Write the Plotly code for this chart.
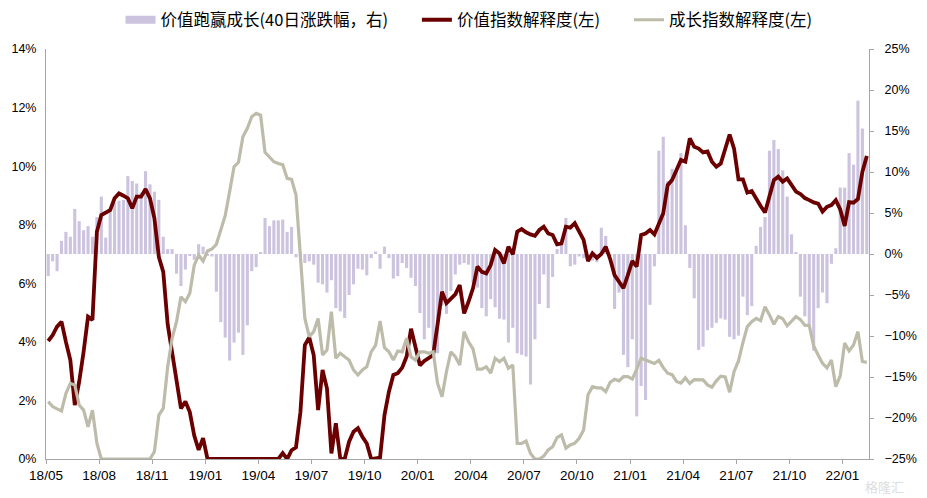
import plotly.graph_objects as go

# ---- data (weekly observations, 186 weeks from 2018/05) ----
tick_labels = ["18/05", "18/08", "18/11", "19/01", "19/04", "19/07", "19/10", "20/01",
               "20/04", "20/07", "20/10", "21/01", "21/04", "21/07", "21/10", "22/01"]

value_beat_growth = [  # right axis, %
    -2.7, -0.9, -2.1, 1.6, 2.7, 2.1, 5.5, 4.0, 2.9, 3.4, 2.1, 4.5, 7.0, 2.0, 5.1,
    6.3, 6.5, 6.6, 9.5, 8.9, 8.6, 7.5, 10.1, 8.5, 7.6, 6.6, 2.1, 0.6, 0.6, -2.4,
    -3.9, -1.9, -0.2, -0.7, 1.2, 0.9,
    -0.2, -0.3, -4.6, -8.3, -10.2, -13.0, -10.8, -9.6, -12.3, -8.7, -2.1, -1.6, 0.2,
    4.4, 3.4, 4.1, 4.1, 4.2, 2.7, 3.3, -0.4, -0.3, -1.1, -0.9, -1.3, -3.5, -3.7, -4.7,
    -3.2, -6.6, -7.0, -7.8, -5.0, -3.7, -1.8, -1.9, -2.6, -0.5,
    0.3, -1.8, 0.9, -0.5, -3.0, -2.7, -1.1, -1.7, -2.9, -3.9, -7.2, -10.4, -9.0, -11.5,
    -12.1, -6.3, -7.3, -4.5, -2.5, -1.3, -1.1, -1.3, -3.5, -4.1, -6.6, -7.6, -5.5, -6.5,
    -7.9, -8.0, -10.8, -9.0, -12.1, -12.3, -12.5, -15.9, -10.4, -6.1,
    -2.5, -6.6, -2.8, 0.6, 1.8, 4.4, -1.5, -1.3, -0.3, -0.5, -0.6, -0.8, -1.0, 3.2, 2.2,
    -0.2, -6.7, -4.7, -12.3, -13.8, -10.4, -19.8, -16.1, -17.8, -6.2, -1.5, 12.6, 14.3,
    8.9, 10.4, 10.4, 12.3, 3.5, -1.7, -5.4, -11.7, -11.3,
    -9.3, -9.0, -8.4, -7.85, -8.0, -10.1, -10.4, -9.95, -5.2, -7.45, -6.35,
    1.0, 3.3, 4.5, 12.6, 13.9, 12.8, 10.2, 7.0, 2.4, 0.2, -5.2, -7.6, -8.7, -11.8, -6.6,
    -4.7, -6.0, -1.2, 0.7, 8.1, 8.1, 12.3, 10.9, 18.7, 15.3, 12.0,
]

value_explain = [  # left axis, %
    4.03, 4.23, 4.52, 4.69, 4.0, 3.38, 1.84, 2.64, 3.66, 4.86, 4.75, 7.76, 8.33, 8.42,
    8.5, 8.9, 9.07, 8.99, 8.9, 8.56, 8.96, 8.96, 9.22, 8.9, 8.22, 6.9, 6.39, 4.6, 3.7,
    2.7, 1.73, 1.96, 1.6, 0.8, 0.31, 0.71,
    0, 0, 0, 0, 0, 0, 0, 0, 0, 0, 0, 0, 0, 0, 0, 0, 0,
    0.2, 0.0, 0.3, 0.4, 1.6, 3.89, 4.15, 3.55, 1.67, 3.04, 2.41, 0.19, 1.22, 0.03, 0.0,
    0.59, 0.93, 1.05, 0.76, 0.53, 0.0,
    0.03, 0.05, 1.5, 2.3, 2.87, 2.93, 3.12, 3.5, 4.45, 3.8, 3.2, 3.35, 3.45, 3.55, 4.6,
    5.71, 5.32, 5.49, 5.62, 5.94, 4.97, 5.37, 5.83, 6.57, 6.39, 6.34, 6.62, 7.14, 7.02,
    6.68, 7.25, 6.99, 7.76, 7.85, 7.74, 7.67, 7.62, 7.82,
    7.93, 7.7, 7.65, 7.33, 7.36, 7.93, 7.9, 8.05, 7.78, 7.48, 6.76, 7.02, 6.87, 7.0, 7.25,
    6.83, 6.28, 6.05, 5.83, 6.28, 6.76, 6.57, 7.65, 7.7, 7.82, 7.67, 8.05, 8.39, 9.35,
    9.53, 9.87, 10.21, 10.15, 10.95, 10.66, 10.6, 10.47,
    10.5, 10.15, 9.98, 10.09, 10.6, 11.08, 10.6, 9.55, 9.55, 9.1, 9.15, 8.87, 8.64, 8.42,
    8.98, 9.52, 9.64, 9.47, 9.58, 9.35, 9.13, 9.05, 8.91, 8.84, 8.76, 8.72, 8.45, 8.61,
    8.67, 8.84, 8.52, 7.96, 8.77, 8.75, 8.88, 9.8, 10.35,
]

growth_explain = [  # left axis, %
    1.96, 1.79, 1.71, 1.64, 2.24, 2.58, 2.53, 1.84, 1.67, 1.1, 1.67, 0.54,
    0, 0, 0, 0, 0, 0, 0, 0, 0, 0, 0, 0,
    0.25, 1.5, 1.73, 3.15, 4.12, 4.69, 5.54, 5.37, 5.66, 6.62, 6.96, 6.76,
    7.1, 7.17, 7.33, 7.82, 8.31, 9.13, 9.98, 10.13, 11.0, 11.29, 11.69, 11.8, 11.74,
    10.47, 10.29, 10.15, 10.09, 10.05, 9.58, 9.55, 9.01,
    7.08, 4.8, 4.18, 4.35, 4.8, 3.55, 3.72, 5.03, 3.44, 3.61, 3.49, 3.38, 3.04, 2.87,
    3.04, 3.15, 3.66,
    3.89, 4.71, 3.8, 3.66, 3.38, 3.69, 3.66, 4.12, 3.49, 3.38, 3.66, 3.66, 3.61, 3.66,
    2.58, 2.13, 2.98, 3.66, 3.49, 3.21, 4.35, 4.0, 3.76, 3.07, 3.07, 3.15, 2.93, 3.44,
    3.32, 3.44, 3.1, 3.21, 0.53, 0.53, 0.61, 0.19, 0, 0,
    0.1, 0.31, 0.42, 0.73, 0.82, 0.37, 0.48, 0.54, 0.71, 0.99, 2.19, 2.47, 2.43, 2.43,
    2.3, 2.62, 2.72, 2.67, 2.81, 2.81, 2.73, 3.07, 3.44, 3.38, 3.32, 3.26, 3.37, 3.12,
    2.93, 2.88, 2.65, 2.59, 2.77, 2.58, 2.71, 2.7, 2.7,
    2.53, 2.45, 2.67, 2.83, 2.8, 2.28, 2.98, 3.35, 3.97, 4.52, 4.69, 4.8, 4.72, 5.2,
    4.92, 4.6, 4.86, 4.79, 4.55, 4.72, 4.86, 4.76, 4.57, 4.55, 3.86, 3.55, 3.27, 3.11,
    3.38, 2.47, 2.84, 3.96, 3.69, 3.89, 4.35, 3.33, 3.3,
]

series_names = ["价值跑赢成长(40日涨跌幅，右)", "价值指数解释度(左)", "成长指数解释度(左)"]

weeks = list(range(len(value_explain)))
weeks_per_tick = 12
tick_pos = [k * weeks_per_tick - 0.5 for k in range(len(tick_labels))]

FONT = "Liberation Sans, Arial, sans-serif"
CJK = "Noto Sans CJK SC, sans-serif"
AXIS_COLOR = "#A6A6A6"
BAR_COLOR = "#CCC3DE"
RED = "#6B0000"
GREY = "#BDBCAB"
PAD = "\u3000\u00a0\u00a0"   # extra spacing between legend entries

# page body has an 8px margin, so the figure is 8px smaller than the window
FIG_W, FIG_H = 919, 490
PLOT_H = 410

fig = go.Figure()
fig.add_trace(go.Bar(
    x=weeks, y=value_beat_growth, name=series_names[0], showlegend=False,
    legendgroup="bar", marker=dict(color=BAR_COLOR, line=dict(width=0)), yaxis="y",
))
# legend-only entry so the bar key is drawn as a flat wide swatch like the original
fig.add_trace(go.Scatter(
    x=[None], y=[None], name=series_names[0] + PAD, mode="lines", legendgroup="bar",
    line=dict(color=BAR_COLOR, width=8), yaxis="y2", hoverinfo="skip",
))
fig.add_trace(go.Scatter(
    x=weeks, y=value_explain, name=series_names[1] + PAD, mode="lines",
    line=dict(color=RED, width=3.8), yaxis="y2",
))
fig.add_trace(go.Scatter(
    x=weeks, y=growth_explain, name=series_names[2], mode="lines",
    line=dict(color=GREY, width=3.2), yaxis="y2",
))

fig.update_layout(
    width=FIG_W, height=FIG_H,
    margin=dict(l=38, r=58, t=41, b=39, autoexpand=False),
    paper_bgcolor="white", plot_bgcolor="white",
    bargap=0.3,
    showlegend=True,
    legend=dict(orientation="h", x=0.514, xanchor="center", xref="paper",
                y=1 - 12 / FIG_H, yanchor="middle", yref="container",
                font=dict(family=CJK, size=16.5, color="#000"), itemwidth=30,
                traceorder="normal"),
    font=dict(family=FONT, size=12, color="#000"),
    xaxis=dict(range=[-0.5, len(weeks) - 0.5], tickmode="array", tickvals=tick_pos,
               ticktext=tick_labels, showgrid=False, zeroline=False,
               showline=True, linecolor=AXIS_COLOR, linewidth=1,
               ticks="outside", ticklen=4, tickcolor=AXIS_COLOR,
               tickfont=dict(family=FONT, size=13.5, color="#000")),
    yaxis=dict(side="right", range=[-25, 25], dtick=5, ticksuffix="%",
               showgrid=False, zeroline=False, showline=True, linecolor=AXIS_COLOR,
               linewidth=1, ticks="outside", ticklen=4, tickcolor=AXIS_COLOR,
               ticklabelstandoff=8,
               tickfont=dict(family=FONT, size=12.5, color="#000")),
    yaxis2=dict(side="left", overlaying="y", range=[0, 14], dtick=2, ticksuffix="%",
                showgrid=False, zeroline=False, showline=True, linecolor=AXIS_COLOR,
                linewidth=1, ticks="", ticklabelstandoff=6,
                tickfont=dict(family=FONT, size=12.5, color="#000")),
)

fig.add_annotation(text="格隆汇", xref="paper", yref="paper", x=1.019, y=-27 / PLOT_H,
                   xanchor="center", yanchor="middle", showarrow=False,
                   font=dict(family=CJK, size=13, color="#DDDDDD"))

fig.write_html("out.html")
